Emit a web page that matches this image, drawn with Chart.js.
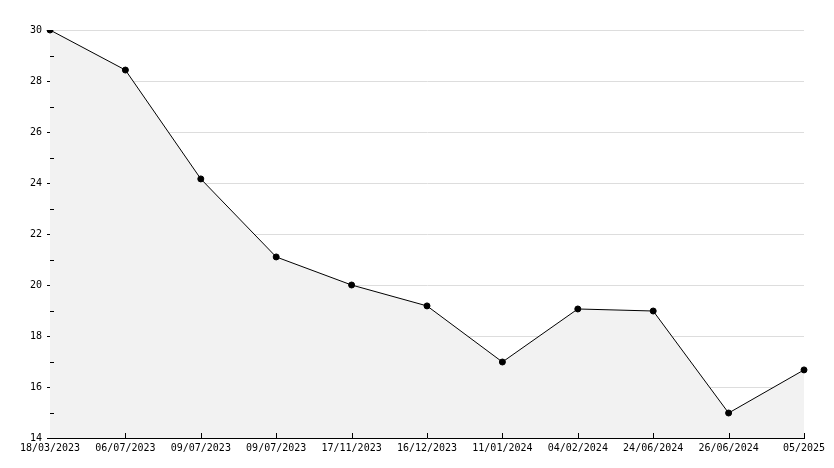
<!DOCTYPE html>
<html>
<head>
<meta charset="utf-8">
<script src="https://cdn.jsdelivr.net/npm/chart.js@4"></script>
<style>
	html,body{margin:0;padding:0;background:#fff;}
	#contenedor{width:834px;height:468px;}
</style>
</head>
<body>
<div id="contenedor"><canvas id="canva"></canvas></div>
<script>
// datos
let fechas = ['18/03/2023','06/07/2023','09/07/2023','09/07/2023','17/11/2023','16/12/2023','11/01/2024','04/02/2024','24/06/2024','26/06/2024','05/2025'];
let valores = [30, 28.43, 24.16, 21.1, 20.0, 19.18, 16.98, 19.06, 18.98, 14.98, 16.67];
let eje_min = 14;
let eje_max = 30;

const fuente = {family:'"DejaVu Sans Mono", monospace', size:10};

// marcas pequeñas hacia dentro de los ejes
const marcas = {
	id:'marcas',
	afterDatasetsDraw(chart){
		const c = chart.ctx;
		const x = chart.scales.x, y = chart.scales.y;
		c.save();
		c.strokeStyle = '#000';
		c.lineWidth = 1;
		c.beginPath();
		for (let v = eje_min + 1; v < eje_max; v += 2) {
			let py = Math.round(y.getPixelForValue(v)) + 0.5;
			c.moveTo(x.left, py);
			c.lineTo(x.left + 4, py);
		}
		for (let i = 1; i < fechas.length; i++) {
			let px = Math.round(x.getPixelForValue(i)) + 0.5;
			c.moveTo(px, y.bottom);
			c.lineTo(px, y.bottom - 5);
		}
		c.stroke();
		c.restore();
	}
};

const ctx = document.getElementById('canva').getContext('2d');
const grafico = new Chart(ctx, {
	type:'line',
	data:{
		labels:fechas,
		datasets:[{
			data:valores,
			borderColor:'#000',
			borderWidth:1,
			backgroundColor:'#f2f2f2',
			fill:'start',
			tension:0,
			pointStyle:'circle',
			pointRadius:3,
			pointBackgroundColor:'#000',
			pointBorderColor:'#000',
			pointBorderWidth:1
		}]
	},
	plugins:[marcas],
	options:{
		responsive:true,
		maintainAspectRatio:false,
		animation:false,
		layout:{padding:{top:30, right:30, left:0, bottom:0}},
		plugins:{legend:{display:false}, tooltip:{enabled:false}},
		scales:{
			x:{
				offset:false,
				grid:{display:false, drawTicks:false, tickLength:0},
				border:{display:true, color:'#000', width:1},
				ticks:{font:fuente, color:'#000', padding:4, maxRotation:0, autoSkip:false},
				afterFit(s){ s.height = 30; }
			},
			y:{
				min:eje_min,
				max:eje_max,
				grid:{color:'#dddddd', tickColor:'#000', tickLength:3},
				border:{display:true, color:'#000', width:1},
				ticks:{stepSize:2, font:fuente, color:'#000', padding:5},
				afterFit(s){ s.width = 50; }
			}
		}
	}
});
</script>
</body>
</html>
